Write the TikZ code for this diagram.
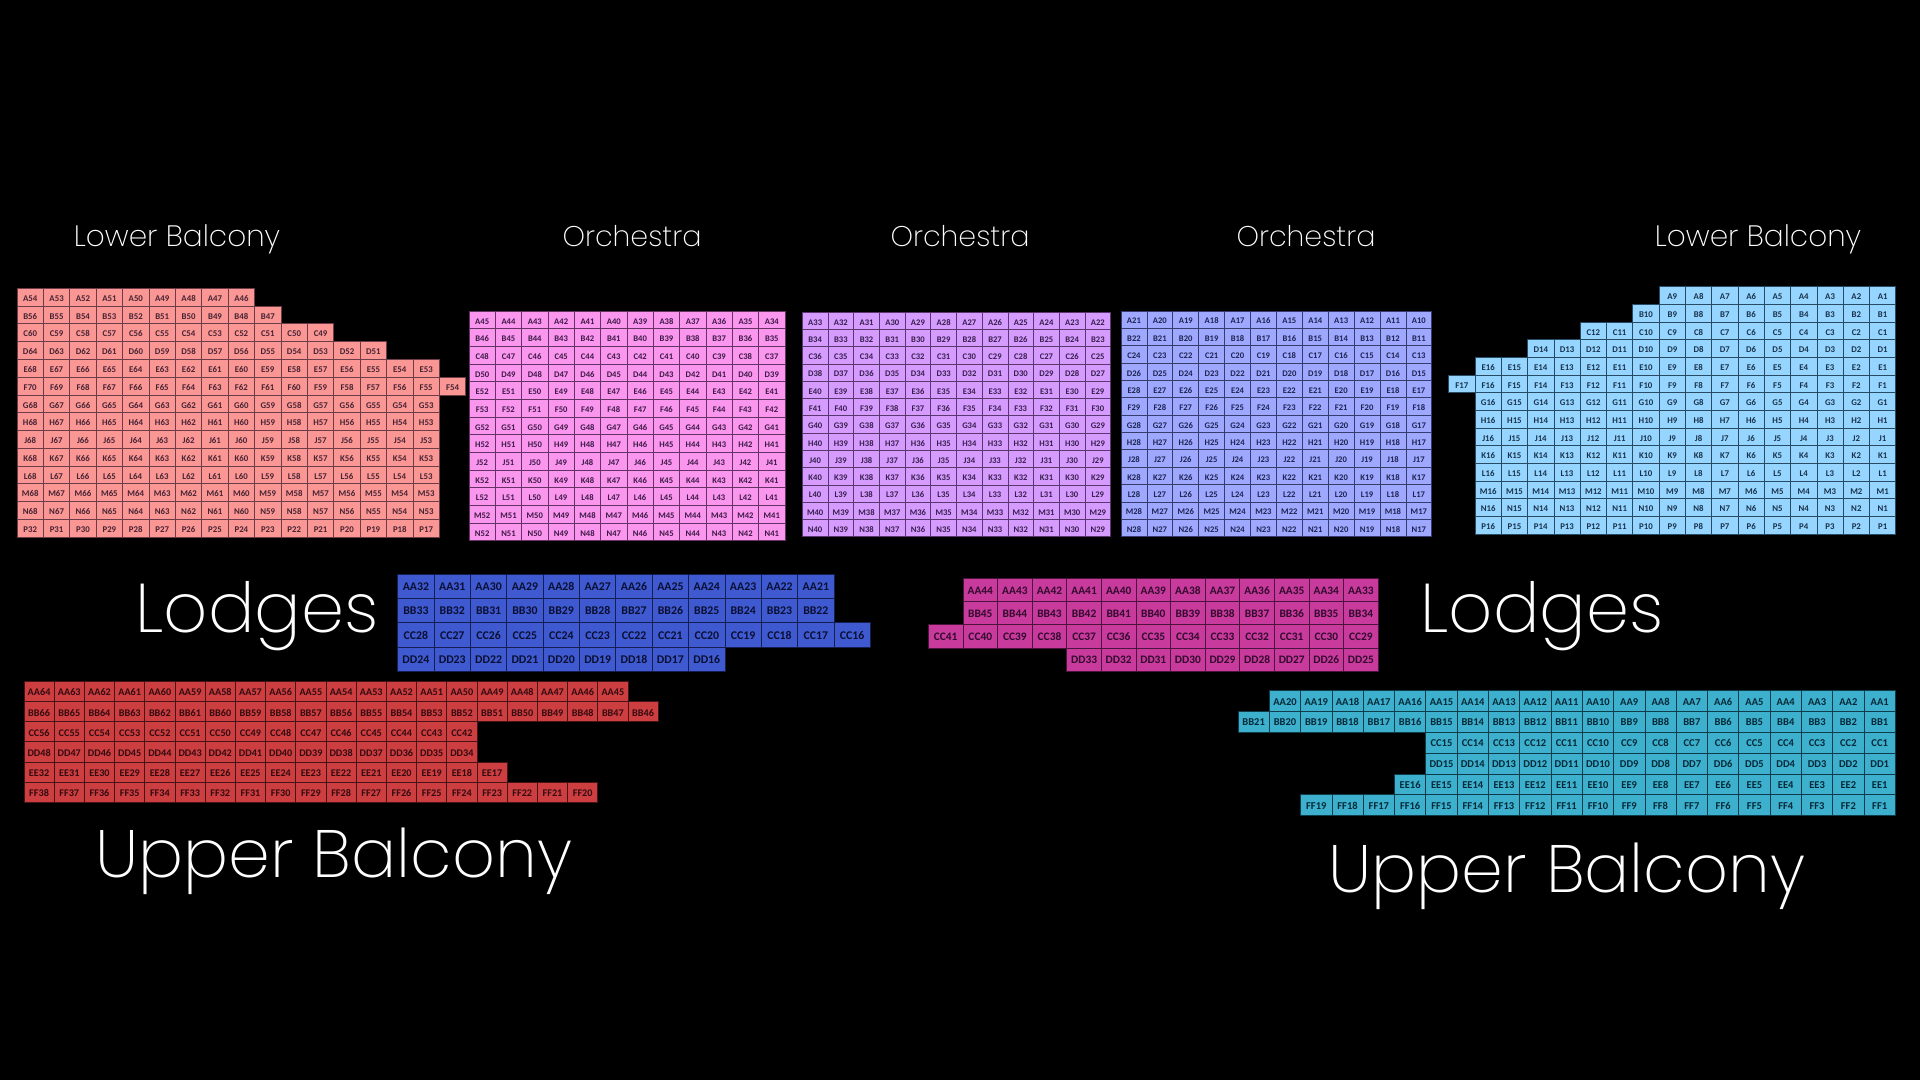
\documentclass[tikz,border=0pt]{standalone}
\usepackage{fontspec}
\setmainfont{Carlito}
\newfontfamily\labelfont{Poppins ExtraLight}
\tikzset{
  seat/.style={draw,inner sep=0pt,outer sep=0pt,line width=.8pt,font=\bfseries,text height=.85em,text depth=0pt},
  lowerleft/.style={seat,fill={rgb,255:red,250;green,150;blue,148},draw={rgb,255:red,110;green,60;blue,70},text={rgb,255:red,70;green,35;blue,50},font=\bfseries\fontsize{8.8}{9}\selectfont},
  orchleft/.style={seat,fill={rgb,255:red,250;green,150;blue,238},draw={rgb,255:red,100;green,50;blue,100},text={rgb,255:red,60;green,25;blue,70},font=\bfseries\fontsize{8.6}{9}\selectfont},
  orchmid/.style={seat,fill={rgb,255:red,214;green,155;blue,255},draw={rgb,255:red,90;green,55;blue,110},text={rgb,255:red,55;green,30;blue,75},font=\bfseries\fontsize{8.6}{9}\selectfont},
  orchright/.style={seat,fill={rgb,255:red,158;green,168;blue,255},draw={rgb,255:red,55;green,60;blue,110},text={rgb,255:red,30;green,35;blue,80},font=\bfseries\fontsize{8.6}{9}\selectfont},
  lowerright/.style={seat,fill={rgb,255:red,150;green,213;blue,255},draw={rgb,255:red,40;green,75;blue,100},text={rgb,255:red,25;green,50;blue,75},font=\bfseries\fontsize{8.8}{9}\selectfont},
  lodgeleft/.style={seat,fill={rgb,255:red,63;green,90;blue,208},draw={rgb,255:red,20;green,30;blue,80},text={rgb,255:red,10;green,15;blue,50},font=\bfseries\fontsize{11.8}{12}\selectfont},
  lodgeright/.style={seat,fill={rgb,255:red,200;green,58;blue,156},draw={rgb,255:red,75;green,20;blue,60},text={rgb,255:red,50;green,10;blue,45},font=\bfseries\fontsize{11.4}{12}\selectfont},
  upperleft/.style={seat,fill={rgb,255:red,205;green,62;blue,64},draw={rgb,255:red,70;green,20;blue,22},text={rgb,255:red,50;green,10;blue,15},font=\bfseries\fontsize{10.2}{11}\selectfont},
  upperright/.style={seat,fill={rgb,255:red,60;green,176;blue,205},draw={rgb,255:red,15;green,60;blue,75},text={rgb,255:red,5;green,40;blue,55},font=\bfseries\fontsize{10.5}{11}\selectfont},
  sectionlabel/.style={text=white,inner sep=0pt,anchor=base},
  orchlabel/.style={sectionlabel,font=\labelfont\fontsize{28.5}{30}\selectfont},
  lowerlabel/.style={sectionlabel,font=\labelfont\fontsize{29.5}{30}\selectfont},
  lodgelabel/.style={sectionlabel,font=\labelfont\fontsize{69}{70}\selectfont},
  upperlabel/.style={sectionlabel,font=\labelfont\fontsize{67}{70}\selectfont},
}
% style, left, top, pitch x, pitch y, rows as letter/first/last/column
\newcommand{\seatblock}[6]{
  \begin{scope}[shift={(#2,#3)},x=#4pt,y=-#5pt]
    \foreach \rowname/\first/\last/\col [count=\rw from 0] in {#6}{
      \foreach \seatno [count=\i from 0] in {\first,...,\last}
        \node[#1,minimum width=#4pt,minimum height=#5pt] (\rowname\seatno) at ({\col+\i+.5},{\rw+.5}) {\rowname\seatno};
    }
  \end{scope}
}
\begin{document}
\begin{tikzpicture}[x=1pt,y=-1pt]
\useasboundingbox (0,0) rectangle (1920,1080);
\fill[black] (0,0) rectangle (1920,1080);

\seatblock{lowerleft}{17}{288.3}{26.4}{17.77}{A/54/46/0,B/56/47/0,C/60/49/0,D/64/51/0,E/68/53/0,F/70/54/0,G/68/53/0,H/68/53/0,J/68/53/0,K/68/53/0,L/68/53/0,M/68/53/0,N/68/53/0,P/32/17/0}
\seatblock{orchleft}{469}{311}{26.33}{17.67}{A/45/34/0,B/46/35/0,C/48/37/0,D/50/39/0,E/52/41/0,F/53/42/0,G/52/41/0,H/52/41/0,J/52/41/0,K/52/41/0,L/52/41/0,M/52/41/0,N/52/41/0}
\seatblock{orchmid}{802.3}{312.3}{25.7}{17.26}{A/33/22/0,B/34/23/0,C/36/25/0,D/38/27/0,E/40/29/0,F/41/30/0,G/40/29/0,H/40/29/0,J/40/29/0,K/40/29/0,L/40/29/0,M/40/29/0,N/40/29/0}
\seatblock{orchright}{1121}{311}{25.9}{17.36}{A/21/10/0,B/22/11/0,C/24/13/0,D/26/15/0,E/28/17/0,F/29/18/0,G/28/17/0,H/28/17/0,J/28/17/0,K/28/17/0,L/28/17/0,M/28/17/0,N/28/17/0}
\seatblock{lowerright}{1475}{286.7}{26.3}{17.67}{A/9/1/7,B/10/1/6,C/12/1/4,D/14/1/2,E/16/1/0,F/17/1/-1,G/16/1/0,H/16/1/0,J/16/1/0,K/16/1/0,L/16/1/0,M/16/1/0,N/16/1/0,P/16/1/0}

\seatblock{lodgeleft}{397.7}{574.3}{36.36}{24.2}{AA/32/21/0,BB/33/22/0,CC/28/16/0,DD/24/16/0}
\seatblock{lodgeright}{963}{578.3}{34.6}{23.2}{AA/44/33/0,BB/45/34/0,CC/41/29/-1,DD/33/25/3}

\seatblock{upperleft}{24}{681.7}{30.2}{20.05}{AA/64/45/0,BB/66/46/0,CC/56/42/0,DD/48/34/0,EE/32/17/0,FF/38/20/0}
\seatblock{upperright}{1238}{690.3}{31.3}{20.9}{AA/20/1/1,BB/21/1/0,CC/15/1/6,DD/15/1/6,EE/16/1/5,FF/19/1/2}

\node[lowerlabel] (lowerL) at (177,246) {Lower Balcony};
\node[orchlabel] (orchL) at (632,246) {Orchestra};
\node[orchlabel] (orchM) at (960,246) {Orchestra};
\node[orchlabel] (orchR) at (1306,246) {Orchestra};
\node[lowerlabel] (lowerR) at (1758,246) {Lower Balcony};
\node[lodgelabel] (lodgesL) at (257,632) {Lodges};
\node[lodgelabel] (lodgesR) at (1542,632) {Lodges};
\node[upperlabel] (upperL) at (334,877) {Upper Balcony};
\node[upperlabel] (upperR) at (1567,892) {Upper Balcony};
\end{tikzpicture}
\end{document}
